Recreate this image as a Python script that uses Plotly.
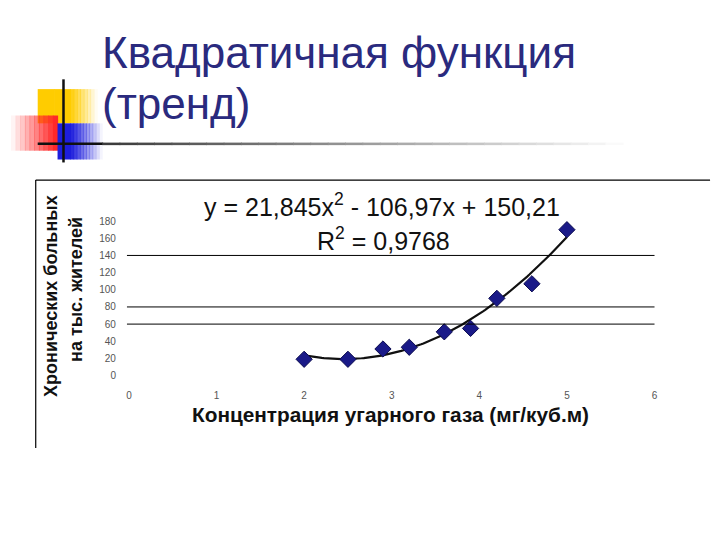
import numpy as np
import plotly.graph_objects as go

# ---- data ----
conc = [2.0, 2.5, 2.9, 3.2, 3.6, 3.9, 4.2, 4.6, 5.0]
patients = [19, 19, 31, 33, 51, 55, 90, 107, 170]
trend_coef = [21.845, -106.97, 150.21]   # y = a x^2 + b x + c (from the label)
r2_text = "0,9768"
x_ticks = [0, 1, 2, 3, 4, 5, 6]
y_ticks = [0, 20, 40, 60, 80, 100, 120, 140, 160, 180]
grid_vals = [140, 80, 60]

W, H = 720, 540
FONT = "Liberation Sans, Arial, sans-serif"
def px(x): return x / W
def py(y): return 1 - y / H

fig = go.Figure()

xt = np.linspace(min(conc), max(conc), 120)
yt = np.polyval(trend_coef, xt)
fig.add_trace(go.Scatter(x=xt, y=yt, mode="lines",
                         line=dict(color="#111111", width=2.2),
                         hoverinfo="skip", showlegend=False))
fig.add_trace(go.Scatter(x=conc, y=patients, mode="markers",
                         marker=dict(symbol="diamond", size=12.5, color="#1a1a88",
                                     line=dict(color="#0c0c50", width=1)),
                         showlegend=False))

shapes = []
for g in grid_vals:
    shapes.append(dict(type="line", xref="paper", yref="y",
                       x0=px(125), x1=px(657), y0=g, y1=g,
                       line=dict(color="black", width=1)))
shapes.append(dict(type="line", xref="paper", yref="paper",
                   x0=px(33), x1=px(713), y0=py(178), y1=py(178),
                   line=dict(color="black", width=1.2)))
shapes.append(dict(type="line", xref="paper", yref="paper",
                   x0=px(33), x1=px(33), y0=py(178), y1=py(452),
                   line=dict(color="black", width=1.2)))

def grad_rect(x0, x1, y0, y1, rgb, a_start, a_end, n=12):
    for i in range(n):
        xa = x0 + (x1 - x0) * i / n
        xb = x0 + (x1 - x0) * (i + 1) / n + 0.6
        a = a_start + (a_end - a_start) * i / max(n - 1, 1)
        shapes.append(dict(type="rect", xref="paper", yref="paper",
                           x0=px(xa), x1=px(xb), y0=py(y1), y1=py(y0),
                           fillcolor=f"rgba({rgb},{a:.3f})", line=dict(width=0),
                           layer="below"))

grad_rect(35, 68, 85, 120, "255,204,0", 1.0, 1.0, 2)
grad_rect(68, 95, 85, 120, "255,204,0", 0.9, 0.05, 8)
grad_rect(8, 55, 112, 148, "255,40,40", 0.05, 1.0, 10)
grad_rect(55, 68, 120, 157, "30,30,220", 1.0, 1.0, 2)
grad_rect(68, 100, 120, 157, "30,30,220", 0.95, 0.05, 10)
shapes.append(dict(type="line", xref="paper", yref="paper",
                   x0=px(61), x1=px(61), y0=py(75), y1=py(160),
                   line=dict(color="#111111", width=2.5)))
shapes.append(dict(type="line", xref="paper", yref="paper",
                   x0=px(35), x1=px(101), y0=py(141), y1=py(141),
                   line=dict(color="#111111", width=2.5)))
n = 30
for i in range(n):
    xa = 100 + (625 - 100) * i / n
    xb = 100 + (625 - 100) * (i + 1) / n + 0.8
    g = int(60 + 190 * i / (n - 1))
    shapes.append(dict(type="rect", xref="paper", yref="paper",
                       x0=px(xa), x1=px(xb), y0=py(142.3), y1=py(139.7),
                       fillcolor=f"rgb({g},{g},{g})", line=dict(width=0)))

annotations = [
    dict(text="Квадратичная функция", xref="paper", yref="paper",
         x=px(98), y=py(48), xanchor="left", yanchor="middle", align="left",
         showarrow=False, font=dict(family=FONT, size=44, color="#2a2a7e")),
    dict(text="(тренд)", xref="paper", yref="paper",
         x=px(98), y=py(100), xanchor="left", yanchor="middle", align="left",
         showarrow=False, font=dict(family=FONT, size=44, color="#2a2a7e")),
    dict(text="y = 21,845x<sup>2</sup> - 106,97x + 150,21", xref="paper", yref="paper",
         x=px(382), y=py(204), xanchor="center", yanchor="middle", showarrow=False,
         font=dict(family=FONT, size=25, color="#111111")),
    dict(text=f"R<sup>2</sup> = {r2_text}", xref="paper", yref="paper",
         x=px(384), y=py(238), xanchor="center", yanchor="middle", showarrow=False,
         font=dict(family=FONT, size=25, color="#111111")),
    dict(text="<b>Хронических больных</b>", xref="paper", yref="paper",
         x=px(49), y=py(297), xanchor="center", yanchor="middle", textangle=-90,
         showarrow=False, font=dict(family=FONT, size=18, color="#111111")),
    dict(text="<b>на тыс. жителей</b>", xref="paper", yref="paper",
         x=px(73), y=py(290), xanchor="center", yanchor="middle", textangle=-90,
         showarrow=False, font=dict(family=FONT, size=18, color="#111111")),
    dict(text="<b>Концентрация угарного газа (мг/куб.м)</b>", xref="paper", yref="paper",
         x=px(391), y=py(418), xanchor="center", yanchor="middle", showarrow=False,
         font=dict(family=FONT, size=20.8, color="#111111")),
]

fig.update_layout(
    width=W, height=H, margin=dict(l=0, r=0, t=0, b=0),
    paper_bgcolor="white", plot_bgcolor="rgba(0,0,0,0)",
    shapes=shapes, annotations=annotations, showlegend=False,
    xaxis=dict(domain=[px(127), px(657)], range=[0, 6], tickvals=x_ticks,
               showgrid=False, zeroline=False, showline=False,
               ticks="outside", ticklen=10, tickcolor="rgba(0,0,0,0)",
               tickfont=dict(family=FONT, size=10, color="#555555")),
    yaxis=dict(domain=[py(378), py(220)], range=[0, 180], tickvals=y_ticks,
               showgrid=False, zeroline=False, showline=False,
               ticks="outside", ticklen=10, tickcolor="rgba(0,0,0,0)",
               tickfont=dict(family=FONT, size=10, color="#555555")),
)

fig.write_html("out.html", config={"displayModeBar": False},
               post_script="document.body.style.margin='0';document.body.style.padding='0';")
